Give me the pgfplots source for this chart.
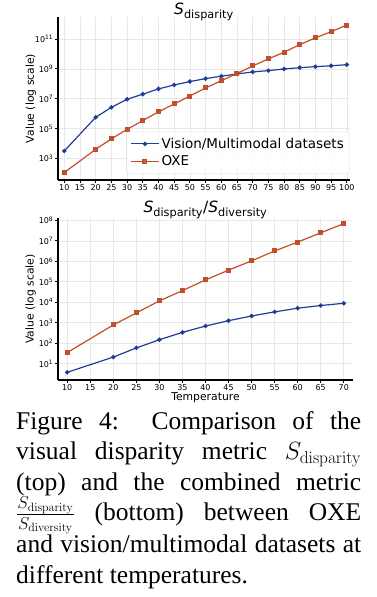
\documentclass[border=0pt]{standalone}
\usepackage[no-math]{fontspec}
\usepackage{pgfplots}
\pgfplotsset{compat=1.18}
\setmainfont{Liberation Serif}
\newfontfamily\plotfont{DejaVu Sans}
\definecolor{cblue}{HTML}{233D96}
\definecolor{corange}{HTML}{C1502A}
\newcommand{\lbl}{\plotfont\fontsize{10.8}{12}\selectfont}
\newcommand{\ttl}{\plotfont\fontsize{15.5}{16}\selectfont}
\newcommand{\sub}[1]{\textsubscript{\fontsize{11.3}{11}\selectfont #1}}
\pgfplotsset{
  mystyle/.style={
    scale only axis,
    axis x line*=bottom, axis y line*=left,
    axis line style={line width=1.3pt, black},
    tick align=outside, major tick length=3pt,
    tick style={black, line width=0.8pt},
    grid=major, major grid style={gray!18, line width=0.6pt},
    yminorticks=false,
    /pgf/number format/assume math mode=true,
    ticklabel style={font=\plotfont\fontsize{8}{8}\selectfont, inner sep=1.5pt},
    every axis y label/.style={at={(axis description cs:-0.093,0.5)}, rotate=90, anchor=center},
    every axis title/.style={inner sep=0pt, at={(0.5,1)}, anchor=base},
  },
  bl/.style={cblue, line width=1.2pt, mark=*, mark size=1.6pt, mark options={fill=cblue, draw=cblue}},
  or/.style={corange, line width=1.2pt, mark=square*, mark size=1.9pt, mark options={fill=corange, draw=corange}},
}
\begin{document}
\begin{tikzpicture}
\useasboundingbox (0pt,0pt) rectangle (377pt,597pt);
\begin{semilogyaxis}[mystyle,
  at={(58pt,417pt)}, anchor=south west, width=292pt, height=163pt,
  xmin=8, xmax=101, ymin=35, ymax=3e12,
  xtick={10,15,...,100},
  ytick={1e3,1e5,1e7,1e9,1e11},
  yticklabels={10\textsuperscript{3},10\textsuperscript{5},10\textsuperscript{7},10\textsuperscript{9},10\textsuperscript{11}},
  ylabel={\lbl Value (log scale)},
  title={\ttl\textit{S}\sub{disparity}},
  title style={yshift=2.5pt},
  legend style={at={(1,0.04)}, anchor=south east, draw=gray!30, rounded corners=2pt, fill=white, fill opacity=0.85, text opacity=1,
    font=\plotfont\fontsize{13.5}{15}\selectfont, inner xsep=4pt, inner ysep=4pt, row sep=2pt},
  legend cell align=left,
  legend image code/.code={\draw[#1] (0pt,0pt) -- (28pt,0pt); \draw[#1, mark repeat=2, mark phase=2] plot coordinates {(0pt,0pt) (14pt,0pt) (28pt,0pt)};},
]
\addplot[bl] coordinates {(10,3.1e3) (20,5.6e5) (25,2.6e6) (30,9.1e6) (35,2.0e7) (40,4.5e7) (45,8.3e7) (50,1.4e8) (55,2.2e8) (60,3.2e8) (65,4.5e8) (70,6.2e8) (75,7.6e8) (80,9.8e8) (85,1.2e9) (90,1.4e9) (95,1.6e9) (100,1.9e9)};
\addlegendentry{Vision/Multimodal datasets}
\addplot[or] coordinates {(10,1.1e2) (20,4.0e3) (25,2.0e4) (30,8.7e4) (35,3.4e5) (40,1.3e6) (45,4.4e6) (50,1.5e7) (55,5.2e7) (60,1.6e8) (65,4.8e8) (70,1.55e9) (75,4.6e9) (80,1.3e10) (85,4.2e10) (90,1.2e11) (95,3.1e11) (100,8.7e11)};
\addlegendentry{OXE}
\end{semilogyaxis}
\begin{semilogyaxis}[mystyle,
  at={(58pt,217pt)}, anchor=south west, width=295pt, height=162pt,
  xmin=8, xmax=72, ymin=1.6, ymax=1.3e8,
  xtick={10,15,...,70},
  ytick={1e1,1e2,1e3,1e4,1e5,1e6,1e7,1e8},
  yticklabels={10\textsuperscript{1},10\textsuperscript{2},10\textsuperscript{3},10\textsuperscript{4},10\textsuperscript{5},10\textsuperscript{6},10\textsuperscript{7},10\textsuperscript{8}},
  xlabel={\lbl Temperature},
  xlabel style={at={(axis description cs:0.5,-0.124)}, anchor=base, inner sep=0pt},
  ylabel={\lbl Value (log scale)},
  title={\ttl\textit{S}\sub{disparity}/\textit{S}\sub{diversity}},
  title style={yshift=5pt},
]
\addplot[bl] coordinates {(10,3.8) (20,21) (25,59) (30,148) (35,339) (40,690) (45,1260) (50,2140) (55,3390) (60,5130) (65,6920) (70,8910)};
\addplot[or] coordinates {(10,35) (20,780) (25,3000) (30,1.17e4) (35,3.7e4) (40,1.23e5) (45,3.7e5) (50,1.05e6) (55,3.2e6) (60,8.7e6) (65,2.45e7) (70,6.9e7)};
\end{semilogyaxis}
\node[anchor=north west, inner sep=0pt, text width=345pt, align=justify,
  font=\fontsize{25.5}{30.5}\selectfont] at (16pt,186pt)
  {Figure 4:\ \ Comparison of the\linebreak visual disparity metric $S_{\mathrm{disparity}}$\linebreak (top) and the combined metric\linebreak $\frac{S_{\mathrm{disparity}}}{S_{\mathrm{diversity}}}$ (bottom) between OXE\linebreak and vision/multimodal datasets at\linebreak different temperatures.};
\end{tikzpicture}
\end{document}
